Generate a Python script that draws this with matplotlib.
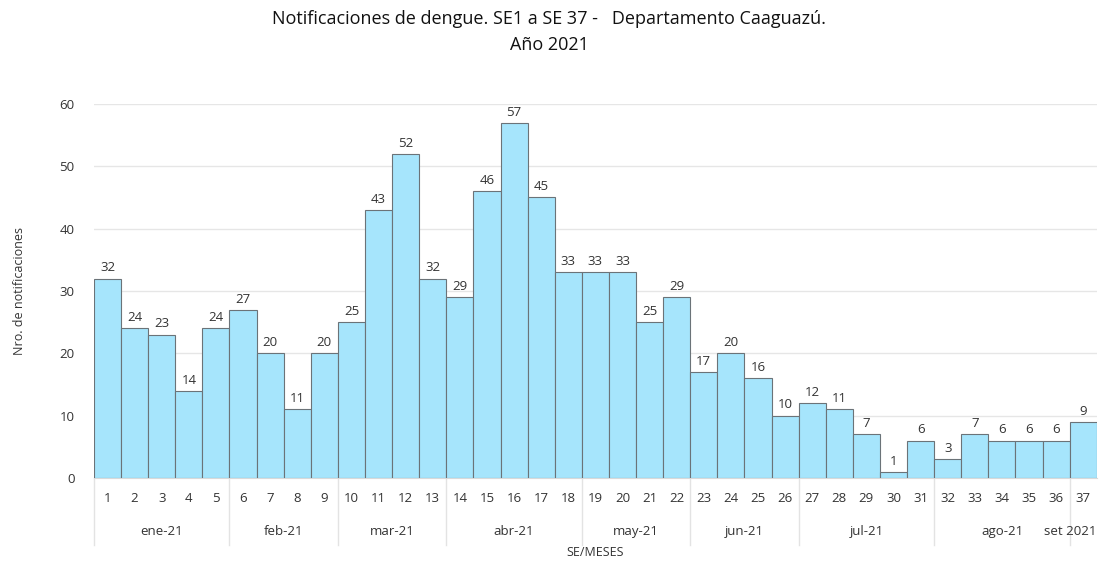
import matplotlib
matplotlib.use("Agg")
import matplotlib.pyplot as plt

plt.rcParams["font.family"] = ["Open Sans", "DejaVu Sans"]

weeks = list(range(1, 38))
cases = [32, 24, 23, 14, 24, 27, 20, 11, 20, 25, 43, 52, 32, 29, 46, 57, 45,
         33, 33, 33, 25, 29, 17, 20, 16, 10, 12, 11, 7, 1, 6, 3, 7, 6, 6, 6, 9]
months = ["ene-21", "feb-21", "mar-21", "abr-21", "may-21", "jun-21",
          "jul-21", "ago-21", "set 2021"]
month_first = [1, 6, 10, 14, 19, 23, 27, 32, 37]
month_last = [5, 9, 13, 18, 22, 26, 31, 36, 37]

fig = plt.figure(figsize=(10.99, 5.62), dpi=100)
ax = fig.add_axes([0.0855, 0.1495, 0.9125, 0.6655])

ax.bar(weeks, cases, width=1.0, color="#A6E5FC", edgecolor="#6b7378",
       linewidth=0.8, zorder=3)
for w, c in zip(weeks, cases):
    ax.annotate(str(c), (w, c), xytext=(0, 3), textcoords="offset points",
                ha="center", va="bottom", fontsize=9.5, color="#333333")

ax.set_xlim(0.5, 37.5)
ax.set_ylim(0, 60)
ax.set_yticks(range(0, 61, 10))
ax.yaxis.grid(True, color="#e6e6e6", linewidth=1, zorder=0)
ax.tick_params(axis="y", length=0, pad=14, labelsize=9.5, colors="#333333")
ax.set_xticks(weeks)
ax.set_xticklabels([str(w) for w in weeks])
ax.tick_params(axis="x", length=0, pad=10, labelsize=9.5, colors="#333333")
for s in ["top", "right", "left"]:
    ax.spines[s].set_visible(False)
ax.spines["bottom"].set_color("#d9d9d9")

# month grouping below the week numbers
tr = ax.get_xaxis_transform()
edges = [month_first[0] - 0.5] + [m + 0.5 for m in month_last]
for e in edges[:-1]:
    ax.plot([e, e], [0, -0.18], transform=tr, color="#e3e3e3",
            linewidth=1, clip_on=False)
for name, a, b in zip(months, month_first, month_last):
    if name == months[-1]:
        ax.text(b + 0.5, -0.142, name, transform=tr, ha="right",
                va="center", fontsize=9.5, color="#333333")
    else:
        ax.text((a + b) / 2, -0.142, name, transform=tr, ha="center",
                va="center", fontsize=9.5, color="#333333")
ax.text(19, -0.2, "SE/MESES", transform=tr, ha="center", va="center",
        fontsize=9, color="#333333")

ax.set_ylabel("Nro. de notificaciones", fontsize=9, color="#333333",
              labelpad=24)

fig.text(0.5, 0.967, "Notificaciones de dengue. SE1 a SE 37 -   Departamento Caaguazú.",
         ha="center", va="center", fontsize=13, color="#111111")
fig.text(0.5, 0.92, "Año 2021", ha="center", va="center", fontsize=13,
         color="#111111")

fig.savefig("out.png", dpi=100)
